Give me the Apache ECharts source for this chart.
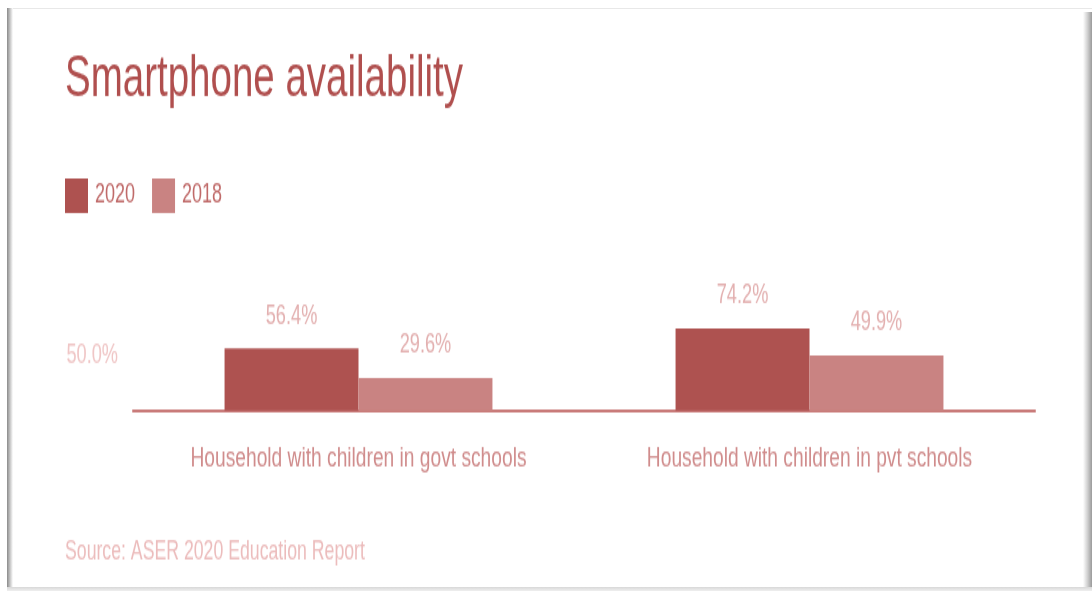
<!DOCTYPE html>
<html>
<head>
<meta charset="utf-8">
<script src="https://cdn.jsdelivr.net/npm/echarts@6/dist/echarts.min.js"></script>
<style>
  html, body { margin: 0; padding: 0; background: #fff; }
  #wrap { position: absolute; left: 0; top: 0; width: 1092px; height: 591px; overflow: hidden; background: #fff; }
  #chart { position: absolute; left: 0; top: 0; width: 1092px; height: 394px; transform: scaleY(1.5); transform-origin: 0 0; }
  .fr { position: absolute; pointer-events: none; }
</style>
</head>
<body>
<div id="wrap">
  <div id="chart"></div>
  <div class="fr" style="left:7px;top:8px;width:1085px;height:1px;background:#e8e8e8"></div>
  <div class="fr" style="left:7px;top:8px;width:6px;height:580px;background:linear-gradient(to right,#8a8a8a,#c4c4c4,#ffffff)"></div>
  <div class="fr" style="left:1083px;top:12px;width:9px;height:576px;background:linear-gradient(to right,#ffffff,#d0d0d0,#9a9a9a)"></div>
  <div class="fr" style="left:7px;top:587px;width:1085px;height:4px;background:linear-gradient(to bottom,#d8d8d8,#efefef)"></div>
</div>
<script>
const titleText = 'Smartphone availability';
const sourceText = 'Source: ASER 2020 Education Report';
const categories = ['Household with children in govt schools', 'Household with children in pvt schools'];
const seriesNames = ['2020', '2018'];
const values2020 = [56.4, 74.2];
const values2018 = [29.6, 49.9];
const yMin = 0;
const yMax = 100;
const yInterval = 50;

const REG = "'Liberation Sans', Arial, sans-serif";
const pct = v => v.toFixed(1) + '%';

const chart = echarts.init(document.getElementById('chart'));
chart.setOption({
  animation: false,
  backgroundColor: '#ffffff',
  title: {
    text: titleText, left: 65, top: 34, padding: 0,
    textStyle: { fontFamily: REG, fontSize: 38.5, fontWeight: 'normal', color: '#b04f4e' }
  },
  legend: {
    data: seriesNames, left: 65, top: 119, padding: 0, itemGap: 17,
    icon: 'rect', itemWidth: 23, itemHeight: 23,
    textStyle: { fontFamily: REG, fontSize: 18, color: '#c06a69', padding: [0, 0, 0, 2] }
  },
  grid: { left: 133, right: 57, top: 200, bottom: 120.3, containLabel: false },
  xAxis: {
    type: 'category', data: categories,
    axisLine: { lineStyle: { color: '#c97b7a', width: 2 } },
    axisTick: { show: false },
    axisLabel: { fontFamily: REG, fontSize: 19.2, color: '#d08c8c', margin: 23, interval: 0 }
  },
  yAxis: {
    type: 'value', min: yMin, max: yMax, interval: yInterval,
    axisLine: { show: false }, axisTick: { show: false }, splitLine: { show: false },
    axisLabel: {
      showMinLabel: false, showMaxLabel: false, margin: 15,
      fontFamily: REG, fontSize: 18.2, color: '#f0c6c6',
      formatter: v => pct(v)
    }
  },
  series: [
    {
      name: seriesNames[0], type: 'bar', data: values2020, barWidth: '29.7%', barGap: '0%',
      itemStyle: { color: '#ae5250' },
      label: { show: true, position: 'top', distance: 12.6, formatter: p => pct(p.value),
        fontFamily: REG, fontSize: 18.2, color: '#e3b0b0' }
    },
    {
      name: seriesNames[1], type: 'bar', data: values2018, barWidth: '29.7%', barGap: '0%',
      itemStyle: { color: '#c98382' },
      label: { show: true, position: 'top', distance: 12.6, formatter: p => pct(p.value),
        fontFamily: REG, fontSize: 18.2, color: '#e3b0b0' }
    }
  ],
  graphic: [
    {
      type: 'text', left: 65, top: 359,
      style: { text: sourceText, font: "17.7px " + REG, fill: '#ecbcbc' }
    }
  ]
});
</script>
</body>
</html>
